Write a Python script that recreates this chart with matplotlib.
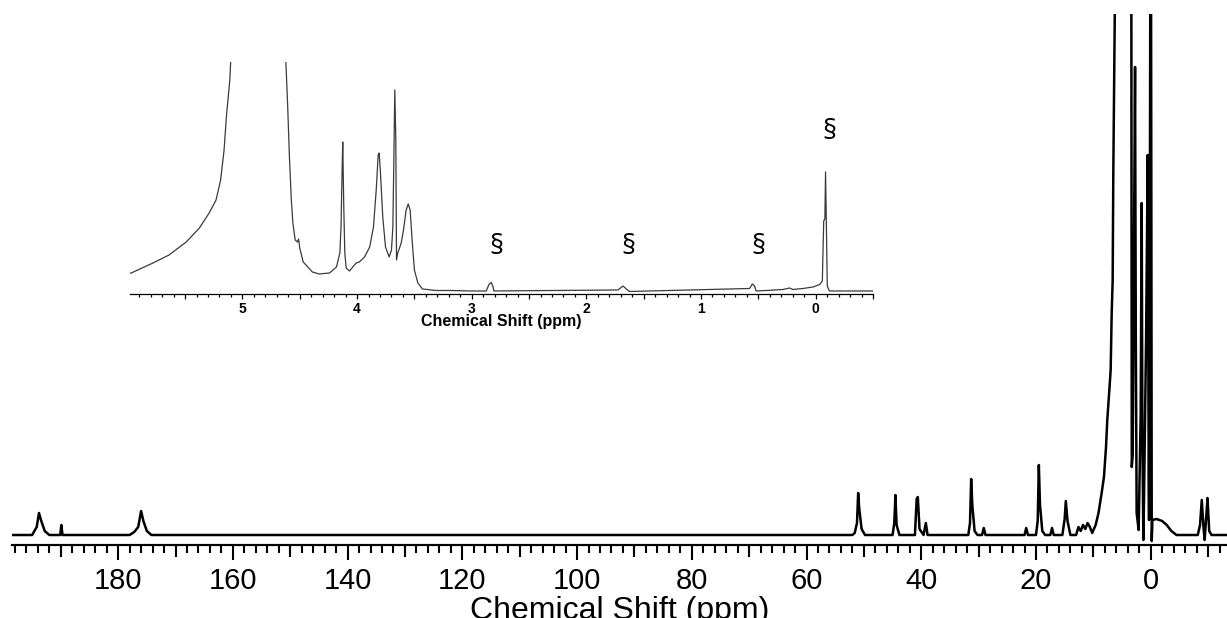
import numpy as np
import matplotlib.pyplot as plt
from matplotlib.ticker import MultipleLocator, FuncFormatter

# 13C spectrum, points (ppm, height above baseline, a.u.)
c13_ppm = [198.5,
           195.0, 194.2, 193.8, 193.4, 192.8, 192.0,
           190.1, 189.9, 189.7,
           178.0, 177.2, 176.5, 176.0, 175.6, 175.0, 174.2,
           52.0, 51.6, 51.2, 51.0, 50.8, 50.4, 49.8,
           45.0, 44.7, 44.5, 44.3, 43.8,
           41.1, 40.8, 40.6, 40.3, 39.6, 39.2, 38.9,
           31.8, 31.5, 31.3, 31.1, 30.7, 30.2,
           29.4, 29.1, 28.8,
           22.0, 21.7, 21.4,
           20.0, 19.7, 19.5, 19.3, 18.9, 18.4,
           17.5, 17.2, 16.9,
           15.4, 15.0, 14.8, 14.5, 14.0,
           13.0, 12.6, 12.2, 11.8, 11.4, 11.0, 10.6, 10.2,
           9.6, 9.1, 8.55, 8.15, 7.79, 7.57, 7.21, 6.98, 6.8, 6.63, 6.52, 6.2,
           5.5, 4.0, 3.4, 3.3, 3.14, 2.9, 2.73, 2.6, 2.45, 2.1,
           1.75, 1.57, 1.45, 1.28, 1.16, 0.8, 0.52, 0.35, 0.29,
           0.15, 0.0, -0.12, -0.18, -0.3, -1.0, -2.0, -2.8, -3.6, -4.5,
           -8.2, -8.6, -8.9, -9.2, -9.4, -9.7, -9.9, -10.2, -10.6,
           -13.3]
c13_int = [0,
           0, 8, 22, 14, 4, 0,
           0, 10, 0,
           0, 3, 8, 24, 14, 4, 0,
           0, 2, 12, 42, 26, 6, 0,
           0, 12, 40, 10, 0,
           0, 36, 38, 6, 0, 12, 0,
           0, 12, 56, 30, 4, 0,
           0, 7, 0,
           0, 7, 0,
           0, 14, 70, 30, 4, 0,
           0, 7, 0,
           0, 16, 34, 14, 0,
           0, 8, 4, 10, 6, 12, 8, 2,
           10, 22, 42, 58, 88, 115, 145, 165, 222, 255, 362, 560,
           800, 800, 700, 68, 80, 300, 468, 200, 22, 5,
           120, 332, 100, -5, 38, 200, 380, 60, 15,
           300, 800, 300, -6, 15, 16, 14, 10, 4, 0,
           0, 10, 35, 8, -5, 20, 37, 4, 0,
           0]

# 1H spectrum (inset)
h1_ppm = [6.0, 5.97, 5.78, 5.64, 5.49, 5.375, 5.29, 5.23, 5.19, 5.16, 5.14, 5.11, 5.10,
          5.0, 4.87, 4.72,
          4.625, 4.605, 4.59, 4.575, 4.56, 4.54, 4.52, 4.51, 4.50, 4.47, 4.43, 4.39, 4.33,
          4.24, 4.18, 4.15, 4.14, 4.13, 4.125, 4.116, 4.107, 4.095, 4.066, 4.008, 3.98,
          3.935, 3.89, 3.857, 3.833, 3.816, 3.807, 3.796, 3.776, 3.752, 3.72, 3.70,
          3.688, 3.68, 3.671, 3.662, 3.656, 3.645, 3.615, 3.595, 3.572, 3.554, 3.537,
          3.52, 3.50, 3.47, 3.43, 3.31, 3.17, 3.02,
          2.873, 2.85, 2.83, 2.815, 2.807,
          1.725, 1.68, 1.652, 1.623,
          0.576, 0.553, 0.533, 0.52, 0.43, 0.285, 0.227, 0.2, 0.11, 0.023,
          -0.035, -0.058, -0.07, -0.08, -0.086, -0.093, -0.101, -0.12, -0.5]
h1_int = [17, 18, 28, 36, 49, 63, 78, 91, 111, 141, 174, 211, 235,
          500, 900, 500,
          240, 184, 134, 94, 68, 51, 49, 52, 43, 29, 24, 19, 17,
          18, 24, 38, 64, 124, 149, 84, 38, 23, 20, 28, 29,
          34, 44, 64, 101, 136, 138, 118, 74, 44, 34, 41,
          64, 124, 201, 151, 31, 38, 48, 61, 81, 87, 81,
          51, 21, 8, 2, 0.5, 0.5, 0,
          0, 6.5, 8.5, 4.5, 0,
          1, 5, 2, -0.5,
          2.5, 7, 5, 0, 0.5, 1.5, 3, 1.5, 2.5, 4,
          6.5, 10, 70, 72, 119, 68, 5, 0, 0]

# section-sign marks on the inset
mark_ppm = [2.78, 1.63, 0.50, -0.12]
mark_int = [44, 44, 44, 159]

fig = plt.figure(figsize=(12.27, 6.18), dpi=100)
ax = fig.add_axes([0.0098, 0.11812, 0.9902, 0.85922])
ax.plot(c13_ppm, c13_int, color='black', lw=1.8)
ax.set_xlim(198.5, -13.3)
ax.set_ylim(-10, 521)
for s in ['top', 'left', 'right']:
    ax.spines[s].set_visible(False)
ax.spines['bottom'].set_linewidth(1.5)
ax.set_yticks([])
ax.xaxis.set_major_locator(MultipleLocator(20))
ax.xaxis.set_minor_locator(MultipleLocator(2))
ax.xaxis.set_major_formatter(FuncFormatter(lambda v, p: '%d' % round(v)))
ax.tick_params(axis='x', which='major', direction='out', length=11, width=1.5,
               pad=5, labelsize=21)
ax.tick_params(axis='x', which='minor', direction='out', length=6, width=1.5)
for lab in ax.get_xticklabels():
    lab.set_family('Liberation Sans')

# medium ticks at the odd tens
sec = ax.secondary_xaxis('bottom')
sec.set_xticks(np.arange(-10, 200, 20))
sec.tick_params(axis='x', which='major', direction='out', length=8.6, width=1.5,
                labelbottom=False)
sec.tick_params(axis='x', which='minor', length=0)
sec.spines['bottom'].set_linewidth(1.5)

ax.set_xlabel('Chemical Shift (ppm)', fontsize=23, family='Liberation Sans')
ax.xaxis.label.set_va('baseline')
ax.xaxis.set_label_coords(0.5, -0.1394)

# inset 1H spectrum
ins = fig.add_axes([0.106, 0.5243, 0.6055, 0.3754])
ins.set_facecolor('none')
ins.plot(h1_ppm, h1_int, color='#3a3a3a', lw=0.9)
ins.set_xlim(5.98, -0.5)
ins.set_ylim(-3, 229)
for s in ['top', 'left', 'right']:
    ins.spines[s].set_visible(False)
ins.spines['bottom'].set_linewidth(0.9)
ins.set_yticks([])
ins.xaxis.set_major_locator(MultipleLocator(0.5))
ins.xaxis.set_minor_locator(MultipleLocator(0.1))
ins.xaxis.set_major_formatter(FuncFormatter(
    lambda v, p: '%d' % round(v) if abs(v - round(v)) < 1e-6 else ''))
ins.tick_params(axis='x', which='major', direction='out', length=3.6, width=0.9,
                pad=2, labelsize=10)
ins.tick_params(axis='x', which='minor', direction='out', length=2, width=0.9)
for lab in ins.get_xticklabels():
    lab.set_family('Liberation Sans')
    lab.set_fontweight('bold')
ins.set_xlabel('Chemical Shift (ppm)', fontsize=11.5, family='Liberation Sans',
               fontweight='bold')
ins.xaxis.label.set_va('baseline')
ins.xaxis.set_label_coords(0.5, -0.14)

for xm, ym in zip(mark_ppm, mark_int):
    ins.text(xm, ym, '§', fontsize=20, family='Open Sans', ha='center', va='center')

fig.savefig('out.png', dpi=100)
